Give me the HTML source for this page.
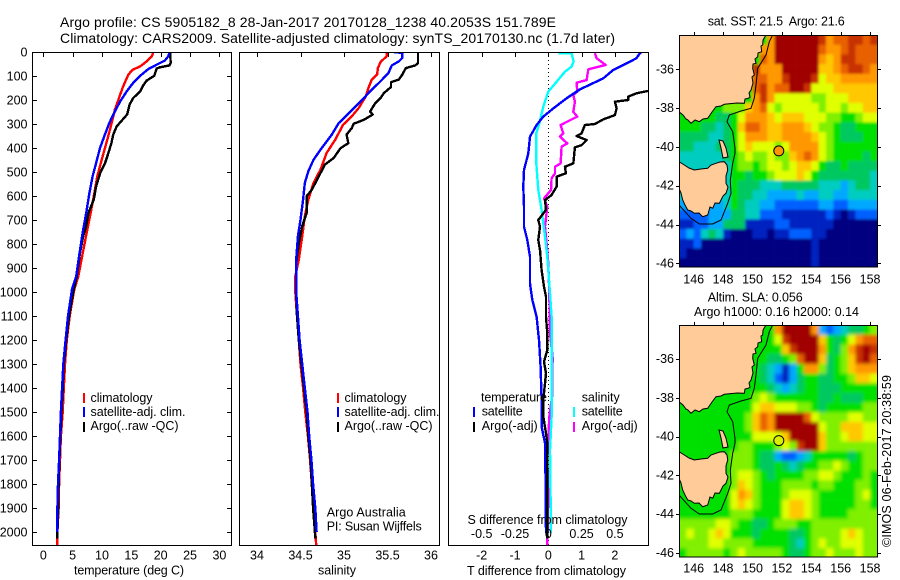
<!DOCTYPE html>
<html><head><meta charset="utf-8"><title>Argo profile</title>
<style>
html,body{margin:0;padding:0;background:#fff}
svg{display:block}
text{font-family:"Liberation Sans",sans-serif;font-size:12.5px;fill:#000}
.t{font-size:14px}
</style></head>
<body>
<svg id="fig" xmlns="http://www.w3.org/2000/svg" width="900" height="580" viewBox="0 0 900 580">
<defs>
<clipPath id="c1"><rect x="32" y="52" width="200" height="493"/></clipPath>
<clipPath id="c2"><rect x="239" y="52" width="201" height="493"/></clipPath>
<clipPath id="c3"><rect x="448" y="52" width="201" height="493"/></clipPath>
<clipPath id="m1"><rect x="679" y="35" width="199" height="232"/></clipPath>
<clipPath id="m2"><rect x="679" y="325" width="199" height="232"/></clipPath>
<filter id="soft" x="-5%" y="-5%" width="110%" height="110%"><feGaussianBlur stdDeviation="1.9"/></filter>
<filter id="softer" x="-5%" y="-5%" width="110%" height="110%"><feGaussianBlur stdDeviation="1.2"/></filter>
</defs>
<rect x="0" y="0" width="900" height="580" fill="#fff"/>
<text class="t" x="60" y="27" textLength="496">Argo profile: CS 5905182_8 28-Jan-2017 20170128_1238 40.2053S 151.789E</text>
<text class="t" x="60" y="43" textLength="555">Climatology: CARS2009. Satellite-adjusted climatology: synTS_20170130.nc (1.7d later)</text>

<g id="panels"></g>
<g id="maps"></g>

<text x="74" y="574.5" textLength="110">temperature (deg C)</text>
<text x="318" y="574.5" textLength="38">salinity</text>
<text x="467" y="575" textLength="159">T difference from climatology</text>
<text x="467.5" y="524" textLength="160">S difference from climatology</text>

<g>
<rect x="83" y="393" width="2" height="10" fill="#f00"/>
<rect x="83" y="407" width="2" height="10" fill="#00f"/>
<rect x="83" y="422" width="2" height="10" fill="#000"/>
<text x="90.5" y="402" textLength="62">climatology</text>
<text x="90.5" y="416" textLength="95">satellite-adj. clim.</text>
<text x="90.5" y="430" textLength="88">Argo(..raw -QC)</text>
</g>
<g>
<rect x="337" y="393" width="2" height="10" fill="#f00"/>
<rect x="337" y="407" width="2" height="10" fill="#00f"/>
<rect x="337" y="422" width="2" height="10" fill="#000"/>
<text x="344.5" y="402" textLength="62">climatology</text>
<text x="344.5" y="416" textLength="95">satellite-adj. clim.</text>
<text x="344.5" y="430" textLength="88">Argo(..raw -QC)</text>
</g>
<text x="326.7" y="516.7" textLength="79">Argo Australia</text>
<text x="326.7" y="530.7" textLength="95">PI: Susan Wijffels</text>
<g>
<text x="481" y="401.7" textLength="66">temperature</text>
<text x="481.7" y="415.7" textLength="41">satellite</text>
<text x="481.7" y="430" textLength="56">Argo(-adj)</text>
<rect x="473" y="407" width="2" height="10" fill="#00f"/>
<rect x="473" y="422" width="2" height="10" fill="#000"/>
<text x="581.7" y="401.7" textLength="38">salinity</text>
<text x="581.7" y="415.7" textLength="41">satellite</text>
<text x="581.7" y="430" textLength="56">Argo(-adj)</text>
<rect x="573" y="407" width="2" height="10" fill="#0ff"/>
<rect x="573" y="422" width="2" height="10" fill="#f0f"/>
</g>
<text x="707.7" y="25.7" textLength="137" xml:space="preserve">sat. SST: 21.5  Argo: 21.6</text>
<text x="707.7" y="301.7" textLength="95">Altim. SLA: 0.056</text>
<text x="694" y="316" textLength="165">Argo h1000: 0.16 h2000: 0.14</text>
<text transform="translate(891,547) rotate(-90)" x="0" y="0" textLength="172">©IMOS 06-Feb-2017 20:38:59</text>
</svg>
<script>
// ---- profile data (depth in m) ----
const depthTicks = [0,100,200,300,400,500,600,700,800,900,1000,1100,1200,1300,1400,1500,1600,1700,1800,1900,2000];
const tempTicks = [0,5,10,15,20,25,30];
const salTicks = [34,34.5,35,35.5,36];
const salTickLabels = ['34','34.5','35','35.5','36'];
const dTTicks = [-2,-1,0,1,2];
const dSTicks = [-0.5,-0.25,0,0.25,0.5];
const dSTickLabels = ['-0.5','-0.25','0','0.25','0.5'];

const tempClimDepth = [0,18,39,60,74,94,115,150,199,240,296,365,449,518,601,685,768,865,935,987,1000,1100,1200,1300,1400,1500,1600,1700,1800,1900,2000,2055];
const tempClim = [18.75,18.5,17.6,16.5,15.2,14.5,14.1,13.5,12.8,12.2,11.65,10.9,9.95,9.2,8.6,7.95,7.27,6.5,5.97,5.3,5.2,4.5,4.0,3.7,3.5,3.3,3.0,2.85,2.7,2.6,2.4,2.4];
const tempArgoDepth = [0,46,56,64,69,99,119,140,164,192,219,260,310,344,380,435,465,504,560,615,670,725,767,837,934,1000,1100,1200,1300,1400,1500,1600,1700,1800,1900,2000,2027];
const tempArgo = [21.6,21.7,21.5,19.8,19.3,18.9,17.6,17.0,16.5,15.3,14.7,14.3,12.5,11.9,11.6,10.9,10.5,9.7,9.0,8.6,7.7,7.3,6.8,6.25,5.7,5.1,4.4,3.9,3.5,3.3,3.1,2.9,2.75,2.6,2.55,2.4,2.4];
const tempSatDepth = [0,18,36,53,71,99,129,164,206,254,296,344,400,463,518,588,671,754,851,935,987,1100,1200,1300,1400,1500,1600,1700,1800,1900,2000];
const tempSat = [21.5,21.3,20.7,19.3,17.9,16.5,15.3,14.2,13.1,12.05,11.25,10.5,9.66,9.0,8.4,7.85,7.3,6.7,6.1,5.6,4.9,4.2,3.8,3.4,3.2,3.0,2.85,2.7,2.5,2.4,2.35];

const salClimDepth = [0,18,42,67,94,115,150,185,233,268,303,365,421,490,546,615,685,768,865,935,1000,1100,1200,1300,1400,1500,1600,1700,1800,1900,2000,2055];
const salClim = [35.49,35.49,35.42,35.39,35.38,35.32,35.28,35.25,35.17,35.09,34.99,34.9,34.8,34.73,34.65,34.59,34.55,34.52,34.48,34.44,34.44,34.46,34.48,34.5,34.53,34.555,34.585,34.61,34.63,34.65,34.67,34.68];
const salArgoDepth = [0,46,56,67,94,115,126,146,171,192,213,248,261,282,299,317,344,380,401,442,469,518,574,601,671,726,796,879,1000,1100,1200,1300,1400,1500,1600,1700,1800,1900,2000,2027];
const salArgo = [35.85,35.85,35.82,35.71,35.67,35.63,35.54,35.54,35.46,35.42,35.36,35.30,35.33,35.23,35.11,35.09,35.03,35.05,34.96,34.88,34.78,34.71,34.63,34.57,34.57,34.52,34.48,34.45,34.45,34.46,34.48,34.51,34.54,34.57,34.59,34.615,34.63,34.645,34.665,34.67];
const salSatDepth = [0,4,25,39,56,88,122,164,199,235,265,296,344,407,449,497,546,615,699,768,865,1000,1100,1200,1300,1400,1500,1600,1700,1800,1900,2000];
const salSat = [35.57,35.67,35.67,35.63,35.55,35.51,35.42,35.30,35.21,35.11,35.03,34.94,34.86,34.73,34.65,34.59,34.55,34.53,34.50,34.47,34.45,34.45,34.47,34.49,34.52,34.55,34.58,34.60,34.625,34.645,34.67,34.685];

const dTSatDepth = [0,5,26,44,75,110,156,193,235,269,304,353,422,492,561,644,728,783,853,964,1033,1103,1200,1311,1450,1561,1630,1797,2005];
const dTSat = [2.8,2.75,2.65,2.4,1.95,1.65,0.95,0.55,0.15,-0.15,-0.35,-0.55,-0.6,-0.73,-0.75,-0.73,-0.73,-0.63,-0.55,-0.55,-0.48,-0.35,-0.28,-0.23,-0.2,-0.2,-0.1,-0.08,-0.07];
const dTArgoDepth = [140,162,172,186,200,207,235,263,281,300,304,339,350,367,388,397,464,478,506,519,561,596,617,658,700,728,783,825,908,978,1019,1103,1172,1242,1290,1339,1381,1450,1519,1589,1630,1867,2005,2027];
const dTArgo = [3.4,3.0,2.65,2.4,2.4,2.0,2.05,2.0,1.65,1.4,1.1,1.0,0.85,1.15,1.0,0.8,0.75,0.5,0.53,0.25,0.25,0.1,-0.1,-0.07,-0.3,-0.25,-0.3,-0.25,-0.2,-0.13,-0.07,-0.07,-0.03,-0.03,-0.13,-0.07,-0.1,-0.15,-0.15,-0.07,-0.03,-0.03,-0.03,-0.03];
const dSSatDepth = [5,5,40,61,82,124,165,228,297,339,464,575,658,769,853,1006,1103,1242,1519,1658,1867,2005];
const dSSat = [0.075,0.175,0.19,0.175,0.125,0.0625,0,-0.0375,-0.0675,-0.09,-0.09,-0.075,-0.05,-0.025,-0.0075,0.0125,0.025,0.025,0.025,0.0125,0.0175,0.0175];
const dSArgoDepth = [5,26,54,72,117,128,165,179,207,249,269,304,339,353,381,394,464,478,506,526,575,610,644,728,797,881,1006,1172,1272,1430,1519,1700,1850,2055];
const dSArgo = [0.35,0.3625,0.43,0.3,0.2875,0.2125,0.2175,0.1875,0.2,0.1875,0.2175,0.0925,0.1125,0.0875,0.1425,0.1,0.0925,0.05,0.05,0.025,0.02,-0.0325,-0.0075,-0.025,-0.0125,0,0.0075,0.0125,0.0325,0.03,0.0075,-0.0075,0,-0.0075];

// ---- map data: colour level per half-degree cell ----
const sstCells = [
[6,6,6,6,6,6,6,6,6,6,6,6,10,13,13,13,13,13,13,12,10,11,11,12,12,11,12],
[6,6,6,6,6,6,6,6,6,6,6,10,10,13,13,13,13,13,13,11,10,10,11,12,11,11,11],
[6,6,6,6,6,6,6,6,6,6,6,11,10,13,13,13,13,13,13,10,9,10,12,12,11,11,11],
[6,6,6,6,6,6,6,6,6,6,12,10,10,10,13,13,13,13,13,9,9,10,11,12,12,11,10],
[6,6,6,6,6,6,6,6,6,6,11,11,10,10,12,13,13,13,12,8,9,9,10,10,10,10,10],
[6,6,6,6,6,6,6,6,6,6,11,12,10,11,11,13,13,12,8,8,8,9,9,9,9,9,9],
[6,6,6,6,6,6,6,6,6,6,10,12,10,8,8,8,8,8,7,7,8,8,8,9,9,9,9],
[6,6,6,6,6,6,7,7,7,9,10,11,8,7,8,8,8,8,8,7,8,8,7,8,8,9,9],
[6,6,6,6,6,5,5,6,8,10,10,10,9,8,9,9,9,8,8,8,7,7,6,6,7,8,8],
[6,6,6,5,5,4,5,6,9,11,11,10,9,9,10,10,10,9,8,7,7,6,5,5,6,6,6],
[5,5,5,5,4,4,5,6,8,10,10,10,9,9,10,10,10,10,9,8,7,6,5,5,5,6,6],
[5,5,4,4,4,5,5,6,8,9,8,8,8,7,8,10,10,10,10,8,7,6,6,6,6,6,6],
[4,4,4,4,4,4,5,6,7,8,7,7,8,7,7,9,10,11,10,8,7,6,6,6,6,5,6],
[4,4,4,4,4,4,4,6,7,7,6,7,8,8,7,8,9,9,8,6,5,5,6,5,5,5,5],
[4,4,4,4,4,4,4,6,6,5,6,6,7,8,8,8,9,8,6,5,5,5,5,5,5,5,4],
[4,4,4,4,4,4,4,6,5,5,5,4,4,4,5,5,5,5,5,4,4,4,3,4,5,5,4],
[4,4,4,4,4,4,4,6,5,5,4,4,3,3,3,3,4,3,3,4,4,3,3,4,4,4,4],
[3,3,3,3,3,3,4,6,5,4,4,3,3,2,2,2,2,2,2,3,3,2,2,3,3,3,3],
[2,2,2,2,3,3,3,5,5,4,4,2,2,2,1,1,1,1,1,1,2,1,0,1,2,2,2],
[1,1,2,2,3,3,5,5,5,1,1,1,1,2,2,1,1,1,1,1,1,0,0,0,0,0,0],
[2,3,2,4,5,4,1,0,0,0,1,1,0,1,1,2,2,2,1,1,0,0,0,0,0,0,0],
[1,1,2,0,0,0,0,0,0,0,0,0,0,0,0,0,0,0,1,0,0,0,0,0,0,0,0],
[1,0,0,0,0,0,0,0,0,0,0,0,0,0,0,0,0,0,1,0,0,0,0,0,0,0,0],
[0,0,0,0,0,0,0,0,0,0,0,0,0,0,0,0,0,0,1,0,0,0,0,0,0,0,0]];
const slaCells = [
[6,6,6,6,6,6,6,6,6,6,6,6,6,10,13,13,13,13,10,3,2,3,4,5,5,6,7],
[6,6,6,6,6,6,6,6,6,6,6,6,6,8,12,13,13,13,13,9,6,5,6,8,10,11,11],
[6,6,6,6,6,6,6,6,6,6,6,6,6,6,9,12,13,13,13,10,6,5,7,10,12,13,12],
[6,6,6,6,6,6,6,6,6,6,6,6,5,5,6,7,11,13,13,9,5,6,7,9,12,13,11],
[6,6,6,6,6,6,6,6,6,6,6,5,4,3,1,3,6,10,10,7,5,6,7,9,10,10,10],
[6,6,6,6,6,6,6,6,6,6,6,5,4,2,1,3,5,6,6,5,5,6,6,7,9,9,8],
[6,6,6,6,6,6,6,6,6,6,6,6,5,4,3,4,5,6,6,5,5,5,6,6,6,6,6],
[6,6,6,6,6,6,6,6,6,6,7,8,7,6,6,6,6,6,6,5,5,6,5,5,5,6,6],
[6,6,6,6,6,6,6,6,6,6,8,9,9,8,8,8,7,7,6,5,6,6,6,6,6,7,7],
[6,6,6,6,6,6,6,6,6,7,9,11,10,13,13,13,13,11,8,7,7,7,7,8,8,7,7],
[6,6,6,6,6,6,6,6,6,7,9,11,10,13,13,13,13,13,13,8,7,7,9,9,9,8,8],
[6,6,6,6,6,6,6,6,6,6,8,8,8,8,9,13,13,13,13,9,7,7,8,9,9,8,8],
[6,6,6,6,6,6,6,6,7,7,6,6,6,7,8,7,12,13,13,9,7,7,7,7,7,7,7],
[6,6,6,6,6,6,6,7,7,7,6,5,5,3,2,2,3,4,6,6,6,6,6,5,6,7,7],
[6,6,6,6,6,6,6,7,7,7,6,5,5,6,5,4,5,6,6,7,7,8,7,6,6,7,7],
[6,6,6,6,6,6,6,7,8,8,7,6,5,6,6,6,6,7,7,8,8,7,6,6,6,7,6],
[6,6,6,6,6,6,6,7,9,8,7,6,6,6,7,7,7,7,6,7,7,6,6,6,7,7,6],
[6,6,6,6,6,6,6,8,10,9,7,6,6,6,7,8,8,8,7,6,6,6,6,6,7,8,6],
[6,6,6,6,6,6,6,8,9,8,7,6,6,6,8,9,9,8,7,6,6,6,6,6,7,7,6],
[6,6,6,6,6,6,6,7,7,7,6,6,6,6,8,9,9,8,7,6,6,6,6,7,7,7,7],
[7,7,7,7,7,8,8,7,6,6,5,5,6,7,7,7,6,6,7,7,7,7,7,7,7,7,7],
[7,8,7,7,8,9,8,6,6,6,5,6,6,6,6,5,5,6,7,7,7,7,8,9,8,7,7],
[7,7,7,7,8,8,7,7,7,7,6,6,6,6,6,5,4,6,7,8,7,7,8,8,8,7,7],
[6,7,7,7,7,7,6,7,8,7,7,7,7,7,6,5,5,6,7,7,8,7,7,7,8,7,7]];
const levelColours = ['#000080','#0020c0','#0060ff','#00a8ff','#00ccc0','#00c860','#00e000','#80f000','#e0ff00','#ffc800','#ff9800','#e86000','#c83000','#a00000'];
const lonTicks = [146,148,150,152,154,156,158];
const latTicks = [-36,-38,-40,-42,-44,-46];
const floatLon = 151.789;
const floatLat = -40.2053;

// ---- axis functions ----
const yD = d => 52 + d * 0.24;
const xT = t => 43.3 + t * 5.87;
const xS = s => 257 + (s - 34) * 87;
const xDT = t => 548.3 + t * 33.3;
const xDS = s => 548.3 + s * 133.2;
const xLon = l => 679 + (l - 145) * 14.7;
const yLatSST = l => 69.3 + (-36 - l) * 19.4;
const yLatSLA = l => 359 + (-36 - l) * 19.4;

const NS = 'http://www.w3.org/2000/svg';
function el(parent, tag, attrs){
  const e = document.createElementNS(NS, tag);
  for (const k in attrs) e.setAttribute(k, attrs[k]);
  parent.appendChild(e);
  return e;
}
function label(parent, name, x, y, str, anchor){
  const e = el(parent, 'text', {x: x, y: y, 'text-anchor': anchor || 'middle'});
  
  
  e.textContent = str;
  return e;
}
function tick(parent, name, x1, y1, x2, y2){
  const e = el(parent, 'line', {x1: x1, y1: y1, x2: x2, y2: y2, stroke: '#000', 'stroke-width': 1, 'shape-rendering': 'crispEdges'});
  
  
}
function series(parent, name, depths, values, xf, colour){
  const pts = depths.map((d, i) => xf(values[i]).toFixed(1) + ',' + yD(d).toFixed(1)).join(' ');
  const e = el(parent, 'polyline', {points: pts, fill: 'none', stroke: colour, 'stroke-width': 2.4, 'stroke-linejoin': 'round', 'shape-rendering': 'crispEdges'});
  
  
}
function frame(parent, name, x, y, w, h){
  const e = el(parent, 'rect', {x: x, y: y, width: w, height: h, fill: 'none', stroke: '#000', 'stroke-width': 1, 'shape-rendering': 'crispEdges'});
  
  
}

const panels = document.getElementById('panels');

// temperature panel
const p1 = el(panels, 'g', {});


const p1c = el(p1, 'g', {'clip-path': 'url(#c1)'});
series(p1c, 'temperature-climatology-line', tempClimDepth, tempClim, xT, '#f00');
series(p1c, 'temperature-argo-line', tempArgoDepth, tempArgo, xT, '#000');
series(p1c, 'temperature-satellite-line', tempSatDepth, tempSat, xT, '#00f');
frame(p1, 'temperature-plot-frame', 32.5, 52.5, 199, 493);
depthTicks.forEach(d => {
  tick(p1, 'depth-tick-left', 32.5, Math.round(yD(d)) + .5, 37, Math.round(yD(d)) + .5);
  tick(p1, 'depth-tick-right', 227, Math.round(yD(d)) + .5, 231.5, Math.round(yD(d)) + .5);
  label(p1, 'depth-tick-label', 27.5, yD(d) + 4.5, String(d), 'end');
});
tempTicks.forEach(t => {
  tick(p1, 'temperature-tick', Math.round(xT(t)) + .5, 52.5, Math.round(xT(t)) + .5, 57);
  label(p1, 'temperature-tick-label', xT(t), 559.3, String(t));
});

// salinity panel
const p2 = el(panels, 'g', {});


const p2c = el(p2, 'g', {'clip-path': 'url(#c2)'});
series(p2c, 'salinity-climatology-line', salClimDepth, salClim, xS, '#f00');
series(p2c, 'salinity-argo-line', salArgoDepth, salArgo, xS, '#000');
series(p2c, 'salinity-satellite-line', salSatDepth, salSat, xS, '#00f');
frame(p2, 'salinity-plot-frame', 239.5, 52.5, 200, 493);
salTicks.forEach((s, i) => {
  tick(p2, 'salinity-tick', Math.round(xS(s)) + .5, 52.5, Math.round(xS(s)) + .5, 57);
  label(p2, 'salinity-tick-label', xS(s), 559.3, salTickLabels[i]);
});

// difference panel
const p3 = el(panels, 'g', {});


const zeroLine = el(p3, 'line', {x1: xDT(0), y1: 52, x2: xDT(0), y2: 545, stroke: '#000', 'stroke-width': 1, 'stroke-dasharray': '1 3', 'shape-rendering': 'crispEdges'});


const p3c = el(p3, 'g', {'clip-path': 'url(#c3)'});
series(p3c, 'difference-s-argo-line', dSArgoDepth, dSArgo, xDS, '#f0f');
series(p3c, 'difference-s-satellite-line', dSSatDepth, dSSat, xDS, '#0ff');
series(p3c, 'difference-t-satellite-line', dTSatDepth, dTSat, xDT, '#00f');
series(p3c, 'difference-t-argo-line', dTArgoDepth, dTArgo, xDT, '#000');
frame(p3, 'difference-plot-frame', 448.5, 52.5, 200, 493);
dTTicks.forEach(t => {
  tick(p3, 't-difference-tick', Math.round(xDT(t)) + .5, 52.5, Math.round(xDT(t)) + .5, 57);
  label(p3, 't-difference-tick-label', xDT(t), 559.3, String(t));
});
dSTicks.forEach((s, i) => {
  label(p3, 's-difference-tick-label', xDS(s), 538, dSTickLabels[i]);
});

// maps: coastline shapes in map-relative pixels (shared outline, not data)
const mainland = 'M87 0L84 5L83.7 10L82 11L82.7 16.7L79 18L78.7 21.7L76 24L77 28.3L74 29L73.7 33.3L75.3 40L73 42L74 48L72 55L70 58L71 62L69.3 63.3L66 64L65.3 68.3L58 68L45.3 69.3L42 71L37 71.7L33 77L28.7 83.3L24 84L20.3 86.7L16 85L12 88.3L9 85L7 84L4 80L0 76.7L0 0Z';
const tasmania = 'M0 126.7L5.3 130L10 133L15.3 135L22 134L28.7 133.3L32 130L37 128.3L41 127L45.3 126.7L48 130L48.7 135L47 141L47 148.3L49 152L47 158.3L44 161L40.3 168.3L36 168L33.7 173.3L31 172L28.7 180L23.7 181.7L20 178L15.3 178.3L12 176L8.7 175L6 170L3.7 165L2 158L0 153.3Z';
const flinders = 'M40 105L44 106L47 113L49 122L44 123L42 113Z';
const shelf = 'M93.7 0L90.3 6.7L87 20L78.7 33.3L77 50L75.3 63.3L72 73.3L62 76L50.3 80L48 86.7L53.7 96.7L56 113.3L56 118.3L53.7 128.3L51.3 145L52 158.3L48.7 168.3L42 185L33.7 189L20.3 189L12 183.3L0 170';
const mapsG = document.getElementById('maps');

function drawMap(mapName, cells, yLat, frameTop, clipId, filterId, markerColour, lonLabelY){
  const g = el(mapsG, 'g', {});
  
  
  const clipG = el(g, 'g', {'clip-path': 'url(#' + clipId + ')'});
  const cellsG = el(clipG, 'g', {filter: 'url(#' + filterId + ')'});
  const latTop = -36 + (yLat(-36) - frameTop) / 19.4;
  cells.forEach((row, r) => {
    row.forEach((v, c) => {
      const x0 = xLon(145 + c * 0.5), y0 = yLat(latTop - r * 0.5);
      const x1 = xLon(145 + (c + 1) * 0.5), y1 = yLat(latTop - (r + 1) * 0.5);
      const cell = el(cellsG, 'rect', {x: x0 - (c === 0 ? 12 : 0), y: y0 - (r === 0 ? 12 : 0), width: (x1 - x0) + 0.3 + (c === 0 || c === row.length - 1 ? 12 : 0), height: (y1 - y0) + 0.3 + (r === 0 || r === cells.length - 1 ? 12 : 0), fill: levelColours[v]});
      
      
    });
  });
  const landG = el(clipG, 'g', {transform: 'translate(679,' + frameTop + ')'});
  [mainland, tasmania, flinders].forEach(d => {
    const land = el(landG, 'path', {d: d, fill: '#ffcc99', stroke: '#000', 'stroke-width': 1});
    
    
  });
  const sh = el(landG, 'path', {d: shelf, fill: 'none', stroke: '#000', 'stroke-width': 1});
  
  
  const mark = el(g, 'circle', {cx: xLon(floatLon), cy: yLat(floatLat), r: 5, fill: markerColour, stroke: '#000', 'stroke-width': 1});
  
  
  frame(g, 'map-frame', 679.5, frameTop + 0.5, 198, 231.5);
  lonTicks.forEach(l => {
    tick(g, 'longitude-tick', Math.round(xLon(l)) + .5, frameTop - 3, Math.round(xLon(l)) + .5, frameTop);
    label(g, 'longitude-label', xLon(l), lonLabelY, String(l));
  });
  latTicks.forEach(l => {
    tick(g, 'latitude-tick-left', 676, Math.round(yLat(l)) + .5, 679, Math.round(yLat(l)) + .5);
    tick(g, 'latitude-tick-right', 878, Math.round(yLat(l)) + .5, 881, Math.round(yLat(l)) + .5);
    label(g, 'latitude-label', 674, yLat(l) + 4, String(l), 'end');
  });
}
drawMap('sst-map', sstCells, yLatSST, 35, 'm1', 'softer', '#ff9800', 283.3);
drawMap('sla-map', slaCells, yLatSLA, 325, 'm2', 'soft', '#d8f000', 572.7);
</script>
</body></html>
